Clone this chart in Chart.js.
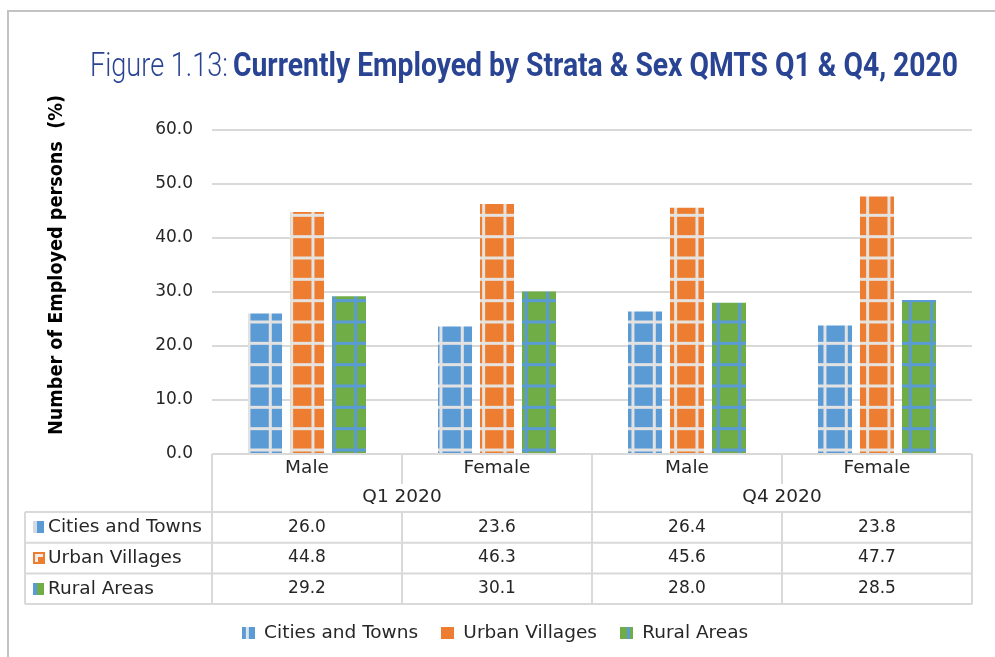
<!DOCTYPE html>
<html>
  <head>
    <title>Currently Employed by Strata &amp; Sex</title>
    <style>
      body {
        margin: 0;
        background: #fff;
      }

      .chart-container {
        position: relative;
        width: 995px;
        height: 657px;
      }
    </style>
  </head>
  <body>
    <div class="chart-container">
      <canvas id="employed-chart"></canvas>
    </div>

    <script src="https://cdn.jsdelivr.net/npm/chart.js"></script>
    <script>
      // Data
      var categories = ["Male", "Female", "Male", "Female"]
      var quarters = ["Q1 2020", "Q4 2020"]
      var seriesNames = ["Cities and Towns", "Urban Villages", "Rural Areas"]
      var citiesAndTowns = [26.0, 23.6, 26.4, 23.8]
      var urbanVillages = [44.8, 46.3, 45.6, 47.7]
      var ruralAreas = [29.2, 30.1, 28.0, 28.5]
      var yMin = 0
      var yMax = 60
      var yStep = 10

      var titleLight = "Figure 1.13:"
      var titleBold = "Currently Employed by Strata & Sex QMTS Q1 & Q4, 2020"
      var yTitle = "Number of Employed persons  (%)"

      var BLUE = "#5b9bd5"
      var ORANGE = "#ed7d31"
      var GREEN = "#70ad47"
      var LINE = "#d9d9d9"
      var TEXT = "#262626"
      var NAVY = "#2a4494"
      var FONT = "DejaVu Sans"
      var WORD_SIZE = 18.5

      // Excel "large grid" pattern, anchored to the canvas
      function gridPattern(fill, line) {
        var c = document.createElement("canvas")
        c.width = 64
        c.height = 64
        var g = c.getContext("2d")
        g.fillStyle = fill
        g.fillRect(0, 0, 64, 64)
        g.fillStyle = line
        for (var k = 0; k < 3; k++) {
          g.fillRect(12.8 + (k * 64) / 3, 0, 3, 64)
          g.fillRect(0, 0.5 + (k * 64) / 3, 64, 3)
        }
        return g.createPattern(c, "repeat")
      }

      function makeIcon(w, h, paint) {
        var c = document.createElement("canvas")
        c.width = w
        c.height = h
        paint(c.getContext("2d"))
        return c
      }

      var legendIcons = [
        makeIcon(13, 12, function (g) {
          g.fillStyle = BLUE
          g.fillRect(0, 0, 13, 12)
          g.fillStyle = "#dce3ea"
          g.fillRect(4, 0, 3, 12)
        }),
        makeIcon(13, 12, function (g) {
          g.fillStyle = ORANGE
          g.fillRect(0, 0, 13, 12)
        }),
        makeIcon(13, 12, function (g) {
          g.fillStyle = GREEN
          g.fillRect(0, 0, 13, 12)
          g.fillStyle = BLUE
          g.fillRect(7, 0, 3, 12)
        }),
      ]

      var tableIcons = [
        makeIcon(11, 12, function (g) {
          g.fillStyle = "#d3dae2"
          g.fillRect(0, 0, 4, 12)
          g.fillStyle = BLUE
          g.fillRect(4, 0, 7, 12)
        }),
        makeIcon(12, 12, function (g) {
          g.fillStyle = ORANGE
          g.fillRect(0, 0, 12, 12)
          g.fillStyle = "#f3ece6"
          g.fillRect(2, 2, 8, 8)
          g.fillStyle = ORANGE
          g.fillRect(5, 5, 5, 5)
        }),
        makeIcon(11, 12, function (g) {
          g.fillStyle = BLUE
          g.fillRect(0, 0, 4, 12)
          g.fillStyle = GREEN
          g.fillRect(4, 0, 7, 12)
        }),
      ]

      var seriesValues = [citiesAndTowns, urbanVillages, ruralAreas]
      var seriesFills = [
        gridPattern(BLUE, "#e2e2e2"),
        gridPattern(ORANGE, "#e6e2de"),
        gridPattern(GREEN, BLUE),
      ]

      // squeeze text horizontally to a given width (condensed look)
      function drawFitted(ctx, text, x, y, width, font) {
        ctx.save()
        ctx.font = font
        var w = ctx.measureText(text).width
        ctx.translate(x, y)
        ctx.scale(width / w, 1)
        ctx.fillText(text, 0, 0)
        ctx.restore()
      }

      function drawTable(chart) {
        var ctx = chart.ctx
        var area = chart.chartArea
        var xs = chart.scales.x
        var colW = (area.right - area.left) / categories.length
        var top = area.bottom
        var subRow = top + 30
        var head = top + 58
        var rowH = 30.7
        var bottom = head + rowH * seriesNames.length
        var leftX = 25

        ctx.save()
        ctx.strokeStyle = LINE
        ctx.lineWidth = 2
        ctx.beginPath()
        for (var i = 0; i <= categories.length; i++) {
          var x = area.left + i * colW
          ctx.moveTo(x, top)
          if (i % 2 === 0) {
            ctx.lineTo(x, bottom)
          } else {
            ctx.lineTo(x, subRow)
            ctx.moveTo(x, head)
            ctx.lineTo(x, bottom)
          }
        }
        ctx.moveTo(leftX, head)
        ctx.lineTo(leftX, bottom)
        for (var r = 0; r <= seriesNames.length; r++) {
          var y = head + r * rowH
          ctx.moveTo(leftX, y)
          ctx.lineTo(area.right, y)
        }
        ctx.stroke()

        ctx.fillStyle = TEXT
        ctx.textBaseline = "middle"
        ctx.textAlign = "center"
        ctx.font = WORD_SIZE + "px " + FONT
        categories.forEach(function (cat, i) {
          ctx.fillText(cat, xs.getPixelForValue(i), top + 14)
        })
        quarters.forEach(function (q, i) {
          ctx.fillText(q, area.left + (2 * i + 1) * colW, top + 43)
        })

        ctx.font = "17px " + FONT
        seriesValues.forEach(function (vals, r) {
          var cy = head + r * rowH + rowH / 2
          vals.forEach(function (v, i) {
            ctx.fillText(v.toFixed(1), xs.getPixelForValue(i), cy)
          })
        })

        ctx.textAlign = "left"
        ctx.font = WORD_SIZE + "px " + FONT
        seriesNames.forEach(function (name, r) {
          var cy = head + r * rowH + rowH / 2
          ctx.drawImage(tableIcons[r], 33, Math.round(cy - 6))
          ctx.fillText(name, 48, cy)
        })
        ctx.restore()
      }

      var decor = {
        id: "decor",
        beforeDraw: function (chart) {
          var ctx = chart.ctx
          ctx.save()
          ctx.strokeStyle = "#c3c3c3"
          ctx.lineWidth = 2
          ctx.beginPath()
          ctx.moveTo(8, chart.height)
          ctx.lineTo(8, 11)
          ctx.lineTo(chart.width, 11)
          ctx.stroke()
          ctx.restore()
        },
        afterDraw: function (chart) {
          var ctx = chart.ctx
          drawTable(chart)

          ctx.save()
          ctx.fillStyle = NAVY
          ctx.textBaseline = "alphabetic"
          ctx.textAlign = "left"
          drawFitted(ctx, titleLight, 90, 76, 138, "300 34px Roboto")
          drawFitted(ctx, titleBold, 233, 76, 725, "bold 34px Roboto")

          ctx.fillStyle = "#000"
          ctx.translate(62, 435)
          ctx.rotate(-Math.PI / 2)
          drawFitted(ctx, yTitle, 0, 0, 340, "bold 19px " + FONT)
          ctx.restore()
        },
      }

      Chart.defaults.font.family = FONT
      Chart.defaults.color = TEXT

      var config = {
        type: "bar",
        data: {
          labels: categories,
          datasets: seriesNames.map(function (name, i) {
            return {
              label: name,
              data: seriesValues[i],
              backgroundColor: seriesFills[i],
              borderWidth: 0,
              categoryPercentage: 0.663,
              barPercentage: 0.81,
            }
          }),
        },
        options: {
          responsive: true,
          maintainAspectRatio: false,
          animation: false,
          layout: {
            padding: { top: 130, right: 23, bottom: 5, left: 18 },
          },
          scales: {
            x: {
              grid: { display: false },
              border: { display: false },
              ticks: { display: false },
              afterFit: function (scale) {
                scale.height = 146.5
              },
            },
            y: {
              min: yMin,
              max: yMax,
              ticks: {
                stepSize: yStep,
                padding: 19,
                color: TEXT,
                font: { size: 17 },
                callback: function (v) {
                  return v.toFixed(1)
                },
              },
              grid: { color: LINE, lineWidth: 2, drawTicks: false },
              border: { display: false },
              afterFit: function (scale) {
                scale.width = 194
              },
            },
          },
          plugins: {
            tooltip: { enabled: false },
            legend: {
              position: "bottom",
              labels: {
                usePointStyle: true,
                boxWidth: 13,
                boxHeight: 12,
                padding: 23,
                color: TEXT,
                font: { size: WORD_SIZE },
                generateLabels: function (chart) {
                  var items = Chart.defaults.plugins.legend.labels.generateLabels(chart)
                  items.forEach(function (item, i) {
                    item.pointStyle = legendIcons[i]
                  })
                  return items
                },
              },
            },
          },
        },
        plugins: [decor],
      }

      var ctx = document.getElementById("employed-chart").getContext("2d")
      new Chart(ctx, config)
    </script>
  </body>
</html>
